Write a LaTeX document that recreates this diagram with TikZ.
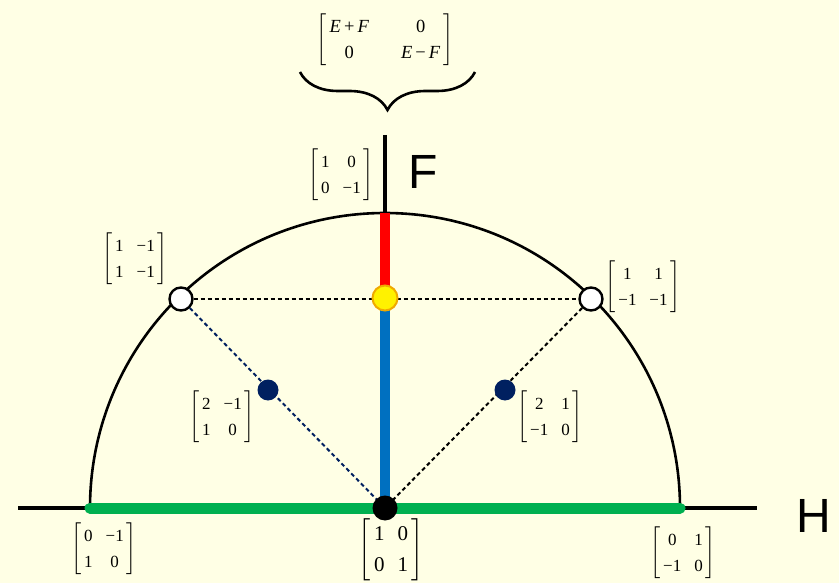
\documentclass[tikz,border=0pt]{standalone}
\usepackage{amsmath}
\usepackage{fontspec}
\setmainfont{Liberation Serif}
\newfontfamily\arialf{Liberation Sans}
\usetikzlibrary{decorations.pathreplacing}
\definecolor{bgc}{RGB}{255,255,229}
\definecolor{grn}{RGB}{0,176,80}
\definecolor{blu}{RGB}{0,112,192}
\definecolor{nvy}{RGB}{0,32,96}
\definecolor{orng}{RGB}{240,170,0}
\renewcommand\arraystretch{1.2}
\newcommand\mymat[4]{$\left[\begin{array}{@{\hspace{3pt}}c@{\hspace{13pt}}c@{\hspace{3pt}}}\text{#1}&\text{#2}\\ \text{#3}&\text{#4}\end{array}\right]$}
\begin{document}
\begin{tikzpicture}[x=1pt,y=-1pt,
  mat/.style={inner sep=0pt,font=\fontsize{17}{22}\selectfont},
  bigmat/.style={inner sep=0pt,font=\fontsize{21}{26}\selectfont},
  axl/.style={font=\arialf\fontsize{48}{50}\selectfont,inner sep=0pt},
  whitept/.style={circle,draw=black,fill=white,line width=2.4pt,minimum size=23pt,inner sep=0pt},
  navypt/.style={circle,fill=nvy,minimum size=21pt,inner sep=0pt},
  blackpt/.style={circle,fill=black,minimum size=25pt,inner sep=0pt},
  yellowpt/.style={circle,fill=yellow,draw=orng,line width=2pt,minimum size=25pt,inner sep=0pt},
  dsh/.style={line width=2pt,dash pattern=on 4pt off 3pt}]
\fill[bgc] (0,0) rectangle (839,583);
\useasboundingbox (0,0) rectangle (839,583);
% coordinates
\coordinate (hl) at (18,508);
\coordinate (hr) at (757,508);
\coordinate (gl) at (90,508);
\coordinate (gr) at (680,508);
\coordinate (vt) at (385,135);
\coordinate (ctop) at (385,213);
\coordinate (o) at (385,508);
\coordinate (ym) at (385,298);
\coordinate (bl) at (300,72);
\coordinate (br) at (475,72);
% axes
\draw[line width=3.5pt] (hl) -- (hr);
\draw[line width=3.5pt] (vt) -- (ctop);
\draw[line width=2.6pt] (gl) arc[start angle=180,end angle=360,radius=295];
% points
\node[whitept] (wl) at (181,299) {};
\node[whitept] (wr) at (591,299) {};
% dashed lines
\draw[dsh] (wl) -- (wr);
\draw[dsh,nvy] (wl) -- (o);
\draw[dsh] (wr) -- (o);
% colored segments
\draw[line width=11pt,grn,line cap=round] (gl) -- (gr);
\draw[line width=10pt,red] (ctop) -- (ym);
\draw[line width=10pt,blu] (ym) -- (o);
\node[navypt] (nl) at (268,390) {};
\node[navypt] (nr) at (505,390) {};
\node[blackpt] (ob) at (o) {};
\node[yellowpt] (yb) at (ym) {};
% brace
\draw[line width=2.6pt,decorate,decoration={brace,amplitude=38pt}] (br) -- (bl);
% labels
\node[font=\fontsize{18.5}{22}\selectfont,inner sep=0pt] (top) at (385,40)
 {$\left[\begin{array}{@{\hspace{3pt}}c@{\hspace{32pt}}c@{\hspace{3pt}}}\text{\textit{E}\,+\,\textit{F}}&\text{0}\\ \text{0}&\text{\textit{E}\,−\,\textit{F}}\end{array}\right]$};
\node[mat] (mF) at (341,175) {\mymat{1}{0}{0}{−1}};
\node[axl] (F) at (423,172) {F};
\node[mat] (m1) at (135,259) {\mymat{1}{−1}{1}{−1}};
\node[mat] (m2) at (643,287) {\mymat{1}{1}{−1}{−1}};
\node[mat] (m3) at (222,417) {\mymat{2}{−1}{1}{0}};
\node[mat] (m4) at (550,417) {\mymat{2}{1}{−1}{0}};
\node[mat] (m5) at (104,549) {\mymat{0}{−1}{1}{0}};
\node[bigmat] (m6) at (391,550) {\mymat{1}{0}{0}{1}};
\node[mat] (m7) at (683,553) {\mymat{0}{1}{−1}{0}};
\node[axl] (H) at (814,516) {H};
\end{tikzpicture}
\end{document}
